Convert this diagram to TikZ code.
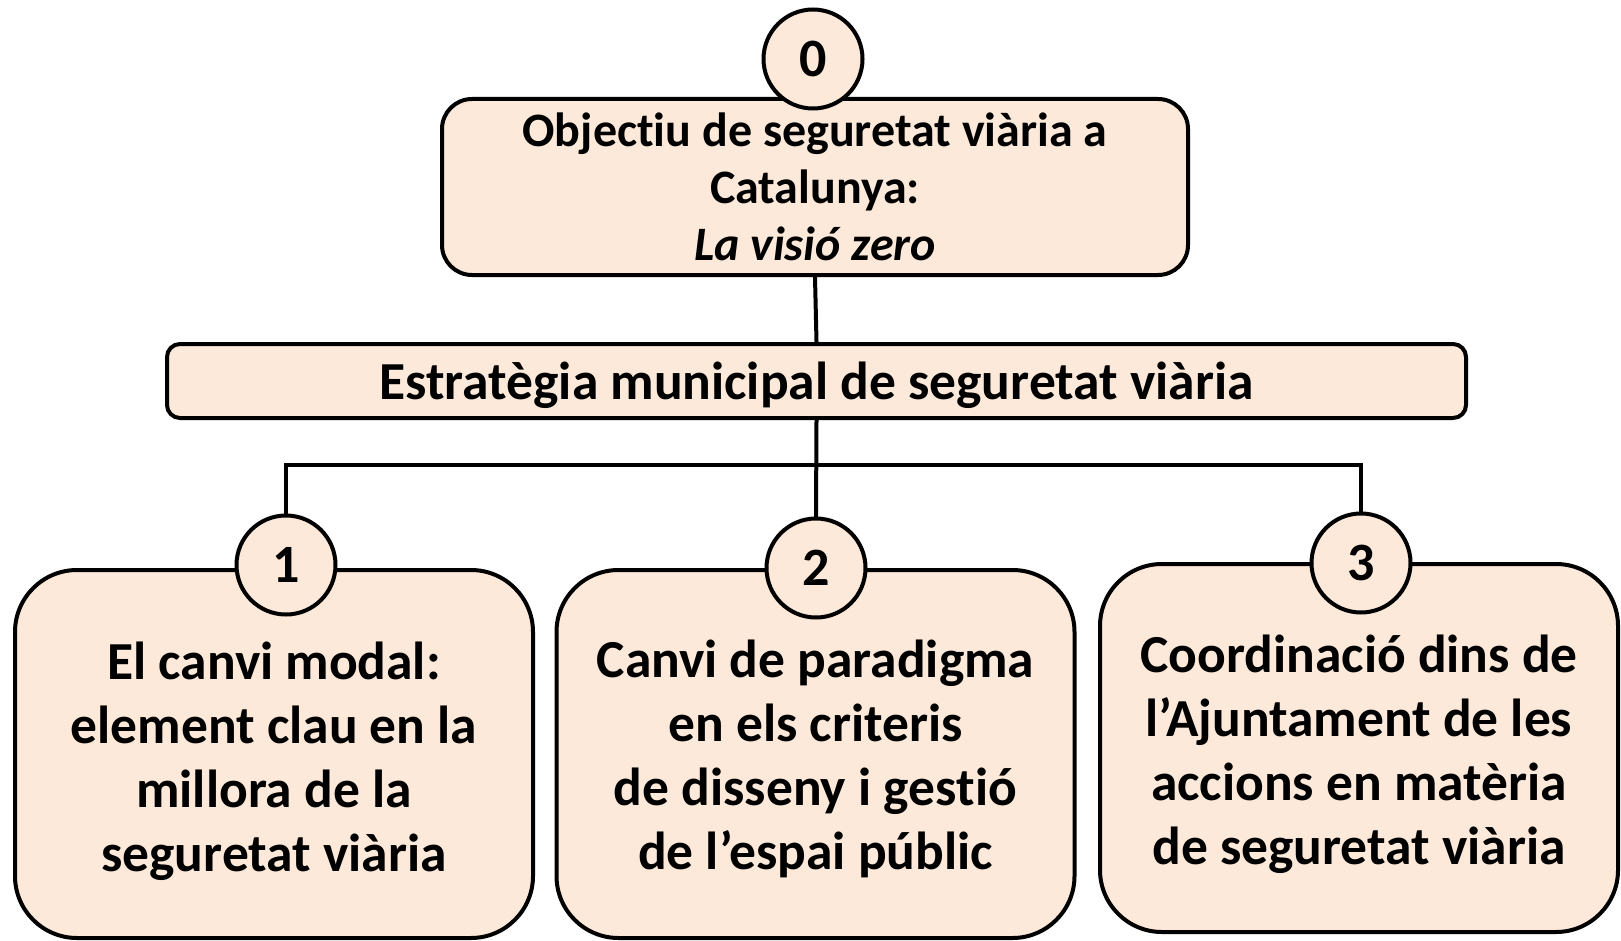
\documentclass[tikz,border=0pt]{standalone}
\usepackage{fontspec}
\setmainfont{Carlito}[Ligatures=NoCommon,RawFeature={-liga;-clig;-dlig;-calt}]
\definecolor{peach}{HTML}{FDE9D9}
\begin{document}
\begin{tikzpicture}[x=1pt,y=-1pt,
  box/.style={draw=black,fill=peach,line width=4pt,inner sep=0pt},
  txt/.style={align=center,inner sep=0pt},
  numc/.style={circle,draw=black,fill=peach,line width=4pt,minimum size=99pt,inner sep=0pt,
    font=\bfseries\fontsize{54}{56}\selectfont},
  conn/.style={line width=4pt,line cap=rect}]
\useasboundingbox (0,0) rectangle (1621,941);
\fill[white] (0,0) rectangle (1621,941);
% boxes
\node[box,rounded corners=30pt,minimum width=746pt,minimum height=176pt] (obj) at (815,187) {};
\node[txt,font=\bfseries\fontsize{48}{57}\selectfont] (objt) at (815,187)
  {Objec\kern0pt t\kern0pt iu de seguretat viària a\\Catalunya:\\\textit{La visió zero}};
\node[box,rounded corners=13pt,minimum width=1299pt,minimum height=74pt] (strat) at (816.5,381) {};
\node[txt,font=\bfseries\fontsize{53.5}{60}\selectfont] (stratt) at (816.5,385)
  {Estratègia municipal de seguretat viària};
\node[box,rounded corners=62pt,minimum width=518pt,minimum height=368pt] (b1) at (274,754) {};
\node[txt,font=\bfseries\fontsize{53.5}{64}\selectfont] (b1t) at (274,761)
  {El canvi modal:\\element clau en la\\millora de la\\seguretat viària};
\node[box,rounded corners=62pt,minimum width=518pt,minimum height=368pt] (b2) at (815.5,754) {};
\node[txt,font=\bfseries\fontsize{53.5}{64}\selectfont] (b2t) at (815.5,759)
  {Canvi de paradigma\\en els criteris\\de disseny i ges\kern0pt t\kern0pt ió\\de l’espai públic};
\node[box,rounded corners=62pt,minimum width=518pt,minimum height=368pt] (b3) at (1359,748) {};
\node[txt,font=\bfseries\fontsize{53.5}{64}\selectfont] (b3t) at (1359,754)
  {Coordinació dins de\\l’Ajuntament de les\\accions en matèria\\de seguretat viària};
% circles
\node[numc] (c0) at (813,59) {0};
\node[numc] (c1) at (286,565) {1};
\node[numc] (c2) at (816,568) {2};
\node[numc] (c3) at (1361,563) {3};
% connectors
\coordinate (bus) at (816,465);
\draw[conn] (obj.south) -- (strat.north);
\draw[conn] (strat.south) -- (c2.north);
\draw[conn] (c1.north) |- (bus) -| (c3.north);
\end{tikzpicture}
\end{document}
